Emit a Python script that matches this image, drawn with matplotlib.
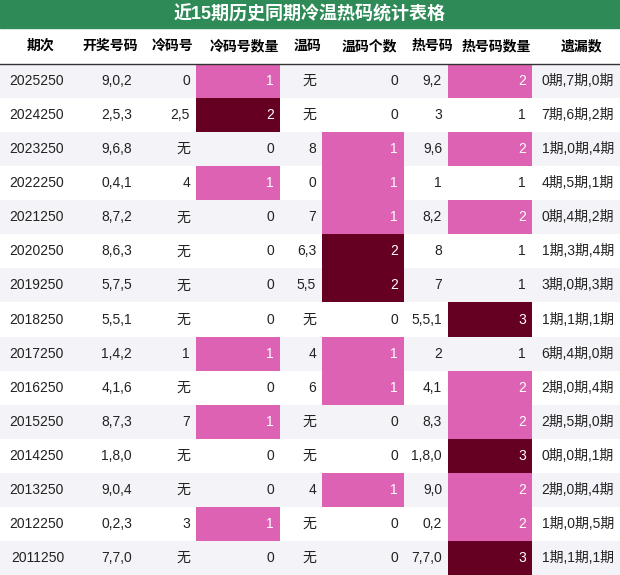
import matplotlib
matplotlib.use("Agg")
import matplotlib.pyplot as plt
from matplotlib.patches import Rectangle

plt.rcParams['font.family'] = ['Liberation Sans', 'Noto Sans CJK SC']

title = "近15期历史同期冷温热码统计表格"
headers = ["期次", "开奖号码", "冷码号", "冷码号数量", "温码", "温码个数", "热号码", "热号码数量", "遗漏数"]
periods = ["2025250", "2024250", "2023250", "2022250", "2021250", "2020250", "2019250", "2018250",
           "2017250", "2016250", "2015250", "2014250", "2013250", "2012250", "2011250"]
draws = ["9,0,2", "2,5,3", "9,6,8", "0,4,1", "8,7,2", "8,6,3", "5,7,5", "5,5,1",
         "1,4,2", "4,1,6", "8,7,3", "1,8,0", "9,0,4", "0,2,3", "7,7,0"]
cold = ["0", "2,5", "无", "4", "无", "无", "无", "无", "1", "无", "7", "无", "无", "3", "无"]
cold_n = [1, 2, 0, 1, 0, 0, 0, 0, 1, 0, 1, 0, 0, 1, 0]
warm = ["无", "无", "8", "0", "7", "6,3", "5,5", "无", "4", "6", "无", "无", "4", "无", "无"]
warm_n = [0, 0, 1, 1, 1, 2, 2, 0, 1, 1, 0, 0, 1, 0, 0]
hot = ["9,2", "3", "9,6", "1", "8,2", "8", "7", "5,5,1", "2", "4,1", "8,3", "1,8,0", "9,0", "0,2", "7,7,0"]
hot_n = [2, 1, 2, 1, 2, 1, 1, 3, 1, 2, 2, 3, 2, 2, 3]
miss = ["0期,7期,0期", "7期,6期,2期", "1期,0期,4期", "4期,5期,1期", "0期,4期,2期", "1期,3期,4期",
        "3期,0期,3期", "1期,1期,1期", "6期,4期,0期", "2期,0期,4期", "2期,5期,0期", "0期,0期,1期",
        "2期,0期,4期", "1期,0期,5期", "1期,1期,1期"]

col_edges = [0, 70, 138, 196, 280, 322, 404, 448, 532, 620]
title_h = 28
head_h = 36
row_h = (575 - title_h - head_h) / len(periods)

PINK = "#de62b4"
DARK = "#660022"
GREEN = "#2e8b57"

fig = plt.figure(figsize=(6.2, 5.75), dpi=100)
ax = fig.add_axes([0, 0, 1, 1])
ax.set_xlim(0, 620)
ax.set_ylim(575, 0)
ax.axis("off")

ax.add_patch(Rectangle((0, 0), 620, title_h, color=GREEN))
ax.text(310, title_h / 2, title, color="white", fontsize=13, fontweight="bold", ha="center", va="center")

for i, h in enumerate(headers):
    xc = (col_edges[i] + col_edges[i + 1]) / 2
    ax.text(xc + 6, title_h + head_h / 2, h, fontsize=10, fontweight="bold", ha="center", va="center")
ax.plot([0, 620], [title_h + head_h, title_h + head_h], color="#333333", lw=1)

columns = [periods, draws, cold, cold_n, warm, warm_n, hot, hot_n, miss]
count_cols = {3: cold_n, 5: warm_n, 7: hot_n}

for r in range(len(periods)):
    y0 = title_h + head_h + r * row_h
    if r % 2 == 0:
        ax.add_patch(Rectangle((0, y0), 620, row_h, color="#f4f3f8", lw=0))
    for c, col in enumerate(columns):
        val = col[r]
        color = "#222222"
        if c in count_cols and val > min(count_cols[c]):
            bg = DARK if val == max(count_cols[c]) else PINK
            ax.add_patch(Rectangle((col_edges[c], y0), col_edges[c + 1] - col_edges[c], row_h, color=bg, lw=0))
            color = "white"
        ax.text(col_edges[c + 1] - 6, y0 + row_h / 2, str(val), fontsize=10, color=color,
                ha="right", va="center")

fig.savefig("out.png", dpi=100)
